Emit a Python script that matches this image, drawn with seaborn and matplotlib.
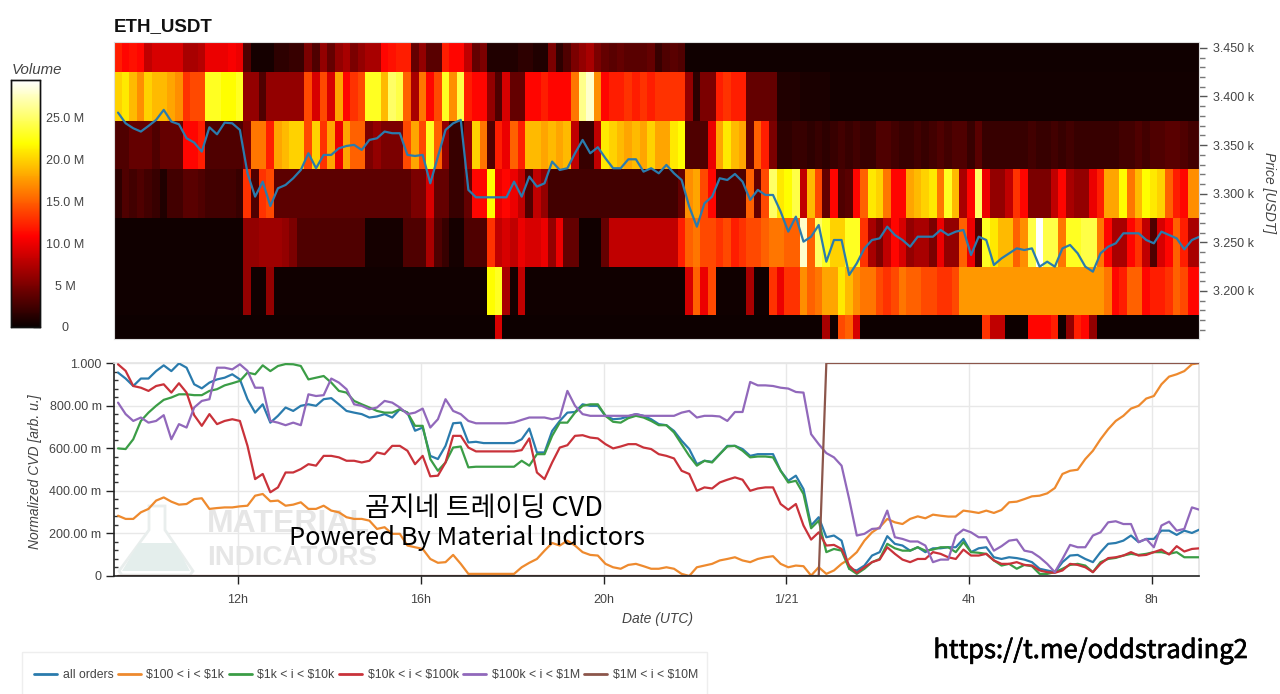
"""ETH_USDT volume heatmap with normalized CVD panel."""
import matplotlib
matplotlib.use("Agg")
import matplotlib.patheffects as pe
import matplotlib.pyplot as plt
import numpy as np
import pandas as pd
import seaborn as sns
from matplotlib.patches import Polygon, Rectangle
from matplotlib.ticker import FixedLocator

# volume per price band in M, one value per 10 min column
vol_3450 = [12, 11, 11.5, 11, 8, 9, 9, 9, 9, 7, 7, 7.5, 10, 10, 10, 10.5, 10, 3, .5, .5, .5, 1.5, 1.5, 2, 2, 5, 3, 6, 4, 6, 7, 5, 6, 7, 7, 11, 11.5, 12, 12, 4, 6, 3.5, 3.5, 12, 11, 11, 8,
            4, 5, 1, 1, 1, 1, 1.5, 1.5, 1, 1, 5, 1.5, 3, 5, 6, 7, 5, 4, 3.5, 4, 3.5, 3.5, 3.5, 4, 2, 3, 3.5, 3] + [.3] * 19 + [.25] * 49
vol_3400 = [20, 21, 19, 17, 20, 19, 19, 18, 17, 13, 14, 14, 23, 23, 22, 22, 23, 6, 6, 3, 6, 6, 6, 6, 6, 14, 9, 14, 9, 18, 11, 13, 14, 23, 23, 19, 25, 24, 15, 7, 16, 11, 14, 23, 17, 24, 12,
            11, 11, 6, 3, 9, 4, 4, 11, 11, 12, 11, 11, 11, 16, 26, 28, 17, 11, 12, 12, 13, 12, 13, 12, 13, 13, 13, 13, 6, 1.5, 5, 5, 12, 13, 12, 12, 4, 4, 4, 4, 1, 1, 1, .8, .8, .8, .8] + [.4] * 49
vol_3350 = [3, 3, 4, 4, 4, 3, 4, 4, 4, 11, 11, 12, 3, 3, 3, 3, 3, 5, 16, 16, 12, 18, 19, 20, 20, 14, 20, 13, 18, 10, 18, 15, 15, 5, 6, 5, 5, 5, 14, 18, 14, 23, 15, 6, 2, 2, 6,
            20, 16, 3, 12, 10, 15, 12, 19, 19, 18, 19, 18, 19, 8, 2, 2, 8, 21, 20, 19, 18, 19, 18, 20, 18, 18, 21, 22, 3, 3, 3, 10, 18, 21, 19, 18, 4, 15, 12, 5, 1.5, 1.5, 2, 2, 1.5, 2, 1.5,
            2, 2.5, 2, 2.5, 2, 2, 3, 3, 2.5, 2, 2, 2.5, 2, 2.5, 3, 2.5, 3, 3, 2, 3.5, 2, 2, 2, 2, 2, 2, 2.5, 2, 2, 2.5, 2, 2.5, 2, 2, 2, 2, 2, 2, 2.5, 2.5, 3, 2.5, 3, 3, 3.5, 3.5, 3, 2.5, 2.5, 3, 3]
vol_3300 = [1.5, 3, 2.5, 3, 2.5, 2, 1, 2.5, 2.5, 3.5, 3.5, 3, 2.5, 2.5, 2.5, 2.5, 2, 13, 3, 13, 14, 3.6, 3.6, 3.6, 3.6, 3.6, 3.6, 3.6, 3.6, 3.6, 3.6, 3.6, 3.6, 3.6, 3.6, 3.6, 3.6, 3.6, 3.6, 5, 5, 9, 4, 4, 2, 2, 4,
            11, 11, 22, 10, 11, 10, 8, 3, 8, 6, 2.5, 2.5, 2.5, 2.5, 2.5, 2.5, 2.5, 2.5, 2.5, 2.5, 2.5, 2.5, 2.5, 2.5, 2.5, 2.5, 2.5, 4, 17, 18, 14, 11, 3, 3, 3, 3, 15, 4, 14, 25, 21, 22, 24, 8, 19, 14, 4,
            11, 3, 3.5, 11, 15, 21, 20, 16, 11, 11, 18, 19, 20, 21, 16, 23, 19, 7, 11, 25, 10, 6, 6, 8, 13, 11, 5, 5, 5, 8, 11, 7, 6, 6, 10, 12, 18, 18, 22, 16, 19, 22, 21, 20, 15, 12, 11, 17, 17]
vol_3250 = [.3] * 17 + [6, 6, 6.5, 6.5, 6.5, 6, 5, 3, 3, 3, 3, 3, 3, 3, 3, 3, .5, .5, .5, .5, .5, 3, 3, 3, 7, 3, 2, .5, .5, 3,
            3, 3, 13, 8, 9, 8, 10, 9, 9, 10, 6, 10, 4, 4, .3, .3, .3, 4, 8, 8, 8, 8, 8, 8, 8, 8, 8, 12, 15, 16, 14, 14, 13, 14, 12, 13, 14, 14, 15, 16, 16, 15, 15, 28, 15, 25, 23,
            20, 20, 23, 23, 13, 7, 5, 8, 11, 9, 6, 7, 7, 5, 10, 6, 6, 15, 10, 3, 23, 21, 19, 19, 15, 17, 24, 29.5, 24, 24, 16, 23, 23, 24, 24, 16, 11, 7, 7, 11, 13, 8, 3, 9, 11, 15, 12, 7, 7]
vol_3200 = [.3] * 17 + [6, .3, .3, 6] + [.3] * 26 + [.3, .3, 22, 23, 7, .5, 8] + [.3] * 21 + [9, 15, 10, 14, .3, .3, .3, .3, 7, .3, .3, 13, 10, 13, 13, 17, 15, 16, 18,
            18, 21, 19, 17, 16, 16, 14, 13, 14, 16, 15, 15, 14, 14, 13, 13, 14, 17.5, 17.5] + [17.5] * 17 + [16, 11, 12, 15, 15, 11, 12, 12, 13, 15, 14, 11, 11]
vol_3150 = [.2] * 47 + [.2, .2, .2, 9] + [.2] * 42 + [7, .3, 14, 15, 9] + [.2] * 16 + [13, 8, 8, .2, .2, .2, 11, 11, 11, 12, .3, 6, 12, 11, 6] + [.2] * 14
price_bands = ["3450", "3400", "3350", "3300", "3250", "3200", "3150"]

# close price, sampled at the column centres
price = [3383.4, 3372.4, 3367.3, 3363.9, 3369.7, 3375.9, 3386.2, 3374.2, 3371.4, 3357, 3352.6, 3343.3, 3368.3, 3361.1, 3373.1, 3372.4, 3365.6, 3321, 3297, 3312.4, 3287.4, 3305.6, 3309, 3315.9, 3324.4, 3341.6, 3326.2, 3339.9, 3339.9, 3346.7, 3349.1, 3350.2, 3345, 3355.3, 3357, 3363.9, 3362.2, 3362.2, 3339.9, 3338.8, 3339.9, 3310.7, 3338.2, 3365.6, 3372.4, 3375.9, 3303.9,
         3296.3, 3296.3, 3296.3, 3296.3, 3296.3, 3312.4, 3297, 3317.6, 3307.3, 3310.7, 3333, 3324.4, 3326.2, 3341.6, 3355.3, 3341.6, 3347.8, 3336.4, 3326.2, 3326.2, 3335.4, 3335.4, 3322.7, 3326.2, 3321, 3329.6, 3321, 3314.1, 3286.7, 3266.1, 3290.1, 3297, 3315.9, 3314.1, 3320.3, 3312.4, 3293.6, 3303.9, 3298.7, 3298.7, 3281.6, 3261, 3276.4, 3250.7, 3255.8, 3267.8, 3230.1,
         3252.4, 3252.4, 3216.4, 3228.4, 3243.8, 3252.4, 3254.1, 3266.1, 3257.5, 3252.4, 3245.5, 3255.8, 3255.8, 3255.8, 3262.7, 3257.5, 3261, 3262.7, 3237, 3255.8, 3252.4, 3226.7, 3233.5, 3238.7, 3243.8, 3242.1, 3243.8, 3225, 3230.1, 3225, 3243.8, 3247.3, 3238.7, 3225, 3219.8, 3238.7, 3245.5, 3249, 3259.3, 3259.3, 3259.3, 3252.4, 3249, 3261, 3257.5, 3254.1, 3242.8, 3252.4, 3255.8]

cvd_all = [.955, .927, .892, .927, .927, .962, .989, .962, .998, .978, .900, .881, .908, .923, .931, .947, .923, .830, .767, .806, .720, .752, .791, .775, .799, .806, .799, .830, .835, .806, .775, .767, .760, .744, .749, .760, .744, .783, .767, .682, .697, .564, .549, .611, .717, .720, .627,
           .630, .624, .624, .624, .624, .624, .642, .692, .580, .580, .681, .728, .767, .770, .806, .799, .799, .752, .736, .739, .749, .760, .752, .736, .713, .708, .681, .635, .596, .525, .541, .536, .572, .611, .611, .596, .564, .572, .572, .572, .494, .447, .471, .408, .237, .276, .182,
           .190, .166, .034, .026, .049, .096, .112, .187, .151, .143, .119, .135, .112, .130, .130, .135, .135, .174, .112, .130, .135, .088, .080, .088, .084, .077, .065, .034, .026, .018, .065, .096, .099, .080, .065, .112, .151, .155, .166, .190, .159, .174, .174, .213, .213, .193, .213, .202, .218]
cvd_100_1k = [.283, .268, .268, .299, .315, .354, .369, .349, .335, .338, .361, .365, .315, .319, .322, .322, .327, .330, .377, .385, .351, .354, .330, .335, .346, .315, .315, .330, .307, .299, .276, .268, .268, .260, .221, .229, .198, .198, .143, .135, .127, .080, .062, .065, .099, .057, .010,
              .010, .010, .010, .010, .010, .010, .041, .062, .080, .119, .155, .143, .166, .143, .112, .099, .096, .057, .041, .034, .052, .057, .046, .034, .034, .041, .034, .010, .000, .041, .049, .057, .073, .080, .088, .073, .065, .080, .088, .093, .057, .041, .049, .046, .002, .041, .010,
              .026, .057, .080, .112, .166, .205, .229, .268, .252, .244, .268, .280, .271, .288, .283, .279, .279, .307, .302, .296, .307, .296, .310, .346, .349, .361, .374, .377, .388, .413, .479, .494, .499, .549, .588, .642, .689, .728, .752, .786, .799, .833, .845, .900, .936, .947, .962, .994, 1.000]
cvd_1k_10k = [.599, .596, .642, .728, .767, .799, .827, .838, .853, .853, .849, .849, .869, .877, .895, .905, .916, .955, .947, .989, .962, .986, .995, .994, .986, .923, .931, .939, .908, .869, .861, .822, .806, .791, .775, .767, .767, .783, .767, .705, .705, .549, .494, .533, .603, .608, .510,
              .513, .513, .513, .513, .513, .513, .541, .518, .572, .572, .658, .720, .720, .767, .799, .806, .806, .752, .724, .720, .741, .752, .744, .728, .708, .708, .674, .619, .564, .518, .541, .533, .572, .608, .611, .588, .557, .561, .561, .557, .494, .439, .447, .385, .224, .260, .112,
              .127, .119, .034, .010, .034, .065, .080, .151, .130, .119, .119, .135, .119, .124, .135, .135, .112, .159, .112, .109, .104, .073, .049, .057, .034, .052, .046, .010, .010, .018, .034, .052, .057, .049, .018, .065, .080, .085, .096, .104, .099, .104, .112, .112, .104, .112, .088, .088, .088]
cvd_10k_100k = [.994, .963, .892, .884, .869, .892, .900, .861, .905, .861, .755, .705, .760, .713, .728, .736, .728, .611, .455, .479, .393, .416, .486, .486, .502, .525, .518, .564, .564, .557, .541, .541, .533, .541, .580, .572, .611, .611, .588, .525, .564, .468, .471, .533, .658, .658, .603,
                .585, .585, .585, .585, .585, .585, .591, .646, .486, .455, .533, .603, .614, .658, .661, .650, .646, .619, .599, .608, .619, .619, .603, .596, .572, .564, .552, .494, .479, .400, .416, .411, .439, .452, .463, .452, .400, .411, .416, .416, .338, .311, .338, .237, .171, .205, .143,
                .146, .127, .049, .015, .041, .065, .077, .135, .104, .077, .065, .080, .080, .112, .104, .088, .080, .124, .096, .096, .104, .073, .057, .057, .065, .052, .049, .026, .018, .015, .026, .057, .052, .041, .018, .057, .084, .088, .096, .112, .096, .099, .112, .124, .101, .140, .115, .127, .130]
cvd_100k_1m = [.814, .760, .728, .744, .720, .728, .755, .642, .713, .697, .791, .822, .830, .978, .978, .970, .994, .963, .884, .884, .728, .720, .708, .720, .708, .853, .845, .849, .927, .908, .877, .806, .799, .783, .791, .822, .814, .791, .760, .767, .786, .697, .736, .830, .775, .760, .728,
               .717, .717, .717, .717, .717, .721, .733, .744, .744, .744, .736, .744, .869, .799, .760, .752, .752, .752, .752, .752, .752, .760, .752, .752, .752, .752, .752, .767, .775, .744, .752, .752, .749, .728, .770, .770, .911, .895, .895, .892, .884, .880, .864, .861, .666, .619, .577,
               .557, .518, .361, .190, .198, .221, .224, .307, .182, .174, .162, .162, .143, .065, .077, .077, .190, .218, .205, .182, .182, .119, .140, .166, .171, .119, .112, .088, .057, .018, .080, .146, .135, .135, .190, .205, .252, .257, .244, .244, .159, .174, .135, .237, .255, .213, .221, .322, .311]
cvd_1m_10m = [0] * 93 + [1] * 50

series_names = ["all orders", r"\$100 < i < \$1k", r"\$1k < i < \$10k", r"\$10k < i < \$100k", r"\$100k < i < \$1M", r"\$1M < i < \$10M"]
series_colors = ["#2a7bad", "#ee8a2e", "#3b9d46", "#c9323a", "#9168bb", "#8c564b"]

hour_ticks = [12, 16, 20, 24, 28, 32]
hour_labels = ["12h", "16h", "20h", "1/21", "4h", "8h"]
price_ticks = [3200, 3250, 3300, 3350, 3400, 3450]
price_labels = ["3.200 k", "3.250 k", "3.300 k", "3.350 k", "3.400 k", "3.450 k"]
cvd_ticks = [0, .2, .4, .6, .8, 1]
cvd_labels = ["0", "200.00 m", "400.00 m", "600.00 m", "800.00 m", "1.000"]
vol_ticks = [0, 5, 10, 15, 20, 25]
vol_labels = ["0", "5 M", "10.0 M", "15.0 M", "20.0 M", "25.0 M"]

W, H = 1280, 694
TEXT = "#444444"
XLIM = (9.287, 33.03)
YLIM_PRICE = (3150.6, 3456)

sns.set_theme(style="white")
plt.rcParams["font.family"] = ["Liberation Sans", "DejaVu Sans"]


def box(x0, y0, x1, y1):
    """Pixel box (top-left origin) to a figure rectangle."""
    return [x0 / W, 1 - y1 / H, (x1 - x0) / W, (y1 - y0) / H]


def fx(x):
    return x / W


def fy(y):
    return 1 - y / H


fig = plt.figure(figsize=(W / 100, H / 100), dpi=100, facecolor="white")
ax_heat = fig.add_axes(box(114, 42, 1199, 339))
cax = fig.add_axes(box(11, 80, 40, 327))
ax_price = fig.add_axes(box(114, 42, 1199, 339), facecolor="none")
ax_cvd = fig.add_axes(box(114, 363, 1199, 576))

# volume heatmap
heat = pd.DataFrame(
    [vol_3450, vol_3400, vol_3350, vol_3300, vol_3250, vol_3200, vol_3150],
    index=price_bands,
)
sns.heatmap(heat, cmap="hot", vmin=0, vmax=29.5, cbar_ax=cax, xticklabels=False, yticklabels=False, ax=ax_heat)
ax_heat.set_xlim(0, 142.45)
ax_heat.set_ylim((3475 - YLIM_PRICE[0]) / 50, (3475 - YLIM_PRICE[1]) / 50)
ax_heat.set_xlabel("")
ax_heat.set_ylabel("")

cax.yaxis.set_ticks_position("right")
cax.set_yticks(vol_ticks)
cax.set_yticklabels(vol_labels, fontsize=9, color=TEXT, ha="center")
cax.tick_params(axis="y", which="major", direction="in", length=5, width=1, color="#222222", pad=18, right=True)
for sp in cax.spines.values():
    sp.set_visible(True)
    sp.set_color("#111111")
    sp.set_linewidth(1)
fig.text(fx(12), fy(70), "Volume", fontsize=10.8, style="italic", color=TEXT, va="center")

# price line over the heatmap
hours = 9.375 + np.arange(len(price)) / 6
sns.lineplot(x=hours, y=price, color=series_colors[0], linewidth=1.6, estimator=None, ax=ax_price)
ax_price.set_xlim(*XLIM)
ax_price.set_ylim(*YLIM_PRICE)
ax_price.set_xticks([])
ax_price.yaxis.tick_right()
ax_price.yaxis.set_major_locator(FixedLocator(price_ticks))
ax_price.set_yticklabels(price_labels, fontsize=9, color=TEXT)
ax_price.yaxis.set_minor_locator(FixedLocator(np.arange(3160, 3460, 10)))
ax_price.tick_params(axis="y", which="major", direction="out", length=6, width=1, color="#555555", pad=4, right=True)
ax_price.tick_params(axis="y", which="minor", direction="out", length=4, width=1, color="#777777", right=True)
for sp in ax_price.spines.values():
    sp.set_color("#dddddd")
    sp.set_linewidth(0.8)
fig.text(fx(1269), fy(193), "Price [USDT]", fontsize=10, style="italic", color=TEXT, rotation=270, ha="center", va="center")

fig.text(fx(114), fy(26.5), "ETH_USDT", fontsize=13.5, fontweight="bold", color="#111111", va="center")

# CVD lines
cvd = pd.DataFrame(
    dict(zip(series_names, [cvd_all, cvd_100_1k, cvd_1k_10k, cvd_10k_100k, cvd_100k_1m, cvd_1m_10m]))
)
cvd["hours"] = hours
long_cvd = cvd.melt(id_vars="hours", var_name="series", value_name="value")
sns.lineplot(
    data=long_cvd, x="hours", y="value", hue="series", hue_order=series_names,
    palette=series_colors, linewidth=1.6, estimator=None, legend="full", ax=ax_cvd, zorder=3,
)
handles, labels = ax_cvd.get_legend_handles_labels()
ax_cvd.get_legend().remove()

ax_cvd.set_xlim(*XLIM)
ax_cvd.set_ylim(0, 1)
ax_cvd.set_xticks(hour_ticks)
ax_cvd.set_xticklabels(hour_labels, fontsize=9, color=TEXT)
ax_cvd.set_yticks(cvd_ticks)
ax_cvd.set_yticklabels(cvd_labels, fontsize=9, color=TEXT)
ax_cvd.yaxis.set_minor_locator(FixedLocator(np.arange(0, 1.001, 0.04)))
ax_cvd.tick_params(axis="y", which="major", direction="out", length=6, width=1, color="#222222", left=True, pad=3)
ax_cvd.tick_params(axis="x", which="major", direction="out", length=6, width=1, color="#222222", bottom=True, pad=7)
ax_cvd.tick_params(axis="y", which="minor", direction="in", length=3, width=1, color="#333333", left=True)
ax_cvd.grid(True, axis="both", which="major", color="#e8e8e8", linewidth=1)
ax_cvd.set_axisbelow(True)
ax_cvd.set_xlabel("Date (UTC)", fontsize=10, style="italic", color=TEXT, labelpad=0)
ax_cvd.xaxis.set_label_coords((657 - 114) / 1085, -(612 - 576) / 213, transform=ax_cvd.transAxes)
ax_cvd.set_ylabel("Normalized CVD [arb. u.]", fontsize=10, style="italic", color=TEXT)
ax_cvd.yaxis.set_label_coords(-(114 - 42) / 1085, 0.49, transform=ax_cvd.transAxes)
ax_cvd.spines["left"].set_color("#222222")
ax_cvd.spines["bottom"].set_color("#222222")
ax_cvd.spines["left"].set_linewidth(1.2)
ax_cvd.spines["bottom"].set_linewidth(1.2)
ax_cvd.spines["bottom"].set_zorder(4)
ax_cvd.spines["top"].set_color("#e5e5e5")
ax_cvd.spines["right"].set_color("#e5e5e5")

# watermark under the lines
tr = fig.transFigure
flask_outline = [(149, 506), (165, 506), (165, 530), (193, 571), (190, 575), (122, 575), (119, 571), (149, 530)]
flask_liquid = [(139, 543), (175, 543), (190, 571), (122, 571)]
ax_cvd.add_patch(Polygon([(fx(x), fy(y)) for x, y in flask_outline], closed=True, transform=tr, facecolor="white",
                         edgecolor="#e9eeed", linewidth=2, zorder=0.6, clip_on=False))
ax_cvd.add_patch(Polygon([(fx(x), fy(y)) for x, y in flask_liquid], closed=True, transform=tr, facecolor="#e4eeec",
                         edgecolor="none", zorder=0.7, clip_on=False))
ax_cvd.text(fx(207), fy(524), "MATERIAL", transform=tr, fontsize=23, fontweight="bold", color="#e6e6e6", va="center", zorder=0.8)
ax_cvd.text(fx(207), fy(558), "INDICATORS", transform=tr, fontsize=20, fontweight="bold", color="#e6e6e6", va="center", zorder=0.8)

# overlay captions
kr_family = ["Noto Sans CJK KR", "DejaVu Sans"]
fig.text(fx(484), fy(508), "곰지네 트레이딩 CVD", fontsize=19.5, family=kr_family, color="black", ha="center", va="center", zorder=5)
fig.text(fx(467), fy(538), "Powered By Material Indictors", fontsize=18.3, family=kr_family, color="black", ha="center", va="center", zorder=5)
url = fig.text(fx(1091), fy(651), "https://t.me/oddstrading2", fontsize=18.4, family=kr_family, color="black", ha="center", va="center", zorder=5)
url.set_path_effects([pe.withStroke(linewidth=0.5, foreground="black")])

# legend box, flush with the bottom edge
fig.add_artist(Rectangle((fx(22), fy(700)), (707 - 22) / W, (700 - 652) / H, transform=tr,
                         facecolor="white", edgecolor="#eeeeee", linewidth=1))
leg = fig.legend(
    handles, labels, loc="center left", bbox_to_anchor=(34 / W, fy(675)), ncol=6, fontsize=8.8,
    frameon=False, handlelength=1.9, handletextpad=0.45, columnspacing=0.35, borderpad=0, borderaxespad=0,
)
for t in leg.get_texts():
    t.set_color(TEXT)
for h in leg.get_lines():
    h.set_linewidth(2)

fig.savefig("out.png", dpi=100, facecolor="white")
plt.close(fig)
